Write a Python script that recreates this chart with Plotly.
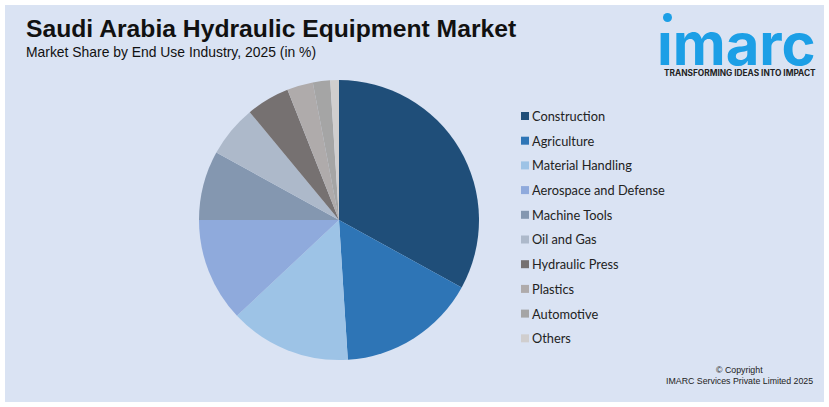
import plotly.graph_objects as go

# Market share by end use industry
industries = ['Construction', 'Agriculture', 'Material Handling', 'Aerospace and Defense', 'Machine Tools',
              'Oil and Gas', 'Hydraulic Press', 'Plastics', 'Automotive', 'Others']
shares = [33, 16, 14, 12, 8, 6, 5, 3, 2, 1]
colors = ['#1f4e79', '#2e75b6', '#9dc3e6', '#8faadc', '#8497b0',
          '#adb9ca', '#767171', '#afabab', '#a5a5a5', '#d0cece']

W, H = 829, 407
BG = '#dae3f3'
LOGO = '#1c9fe6'


# Convert pixel positions of the picture to paper coordinates
def px(x):
    return x / W


def py(y):
    return 1 - y / H


def add_text(fig, x, y, text, size, color='#111111', family='Liberation Sans', anchor='left'):
    fig.add_annotation(x=px(x), y=py(y), xref='paper', yref='paper', text=text, showarrow=False,
                       xanchor=anchor, yanchor='middle', align=anchor,
                       font=dict(size=size, color=color, family=family))


fig = go.Figure(go.Pie(
    labels=industries, values=shares, sort=False, direction='clockwise', rotation=0,
    marker=dict(colors=colors, line=dict(width=0)), textinfo='none', hoverinfo='label+percent',
    showlegend=False,
    domain=dict(x=[px(199), px(479)], y=[py(360), py(80)]),
))

# Panel behind everything
fig.add_shape(type='rect', xref='paper', yref='paper', x0=px(5), x1=px(824), y0=py(402), y1=py(5),
              fillcolor=BG, line_width=0, layer='below')

# Titles
add_text(fig, 24, 28, '<b>Saudi Arabia Hydraulic Equipment Market</b>', 24.7)
add_text(fig, 24, 52, 'Market Share by End Use Industry, 2025 (in %)', 13.9)

# Legend
for i, (name, color) in enumerate(zip(industries, colors)):
    y = 116 + i * 24.7
    fig.add_shape(type='rect', xref='paper', yref='paper', x0=px(521), x1=px(529), y0=py(y + 4), y1=py(y - 4),
                  fillcolor=color, line_width=0)
    add_text(fig, 530, y, name, 12.8, color='#222222', family='Lato')

# Logo
fig.add_shape(type='circle', xref='paper', yref='paper', x0=px(663), x1=px(672), y0=py(22), y1=py(13),
              fillcolor=LOGO, line_width=0)
add_text(fig, 655, 44, '<b>ımarc</b>', 58, color=LOGO, family='Inter')
add_text(fig, 739.5, 73, '<b>TRANSFORMING IDEAS INTO IMPACT</b>', 8.3, color='#222222', family='Inter', anchor='center')

# Copyright
add_text(fig, 739, 370, '© Copyright', 8.8, color='#222222', anchor='center')
add_text(fig, 739, 381, 'IMARC Services Private Limited 2025', 8.8, color='#222222', anchor='center')

fig.update_layout(width=W, height=H, margin=dict(l=0, r=0, t=0, b=0), paper_bgcolor='white', plot_bgcolor='white')

# The page body has a default margin that would push the chart off the window
fig.write_html("out.html", config=dict(displayModeBar=False), post_script="document.body.style.margin = '0';")
